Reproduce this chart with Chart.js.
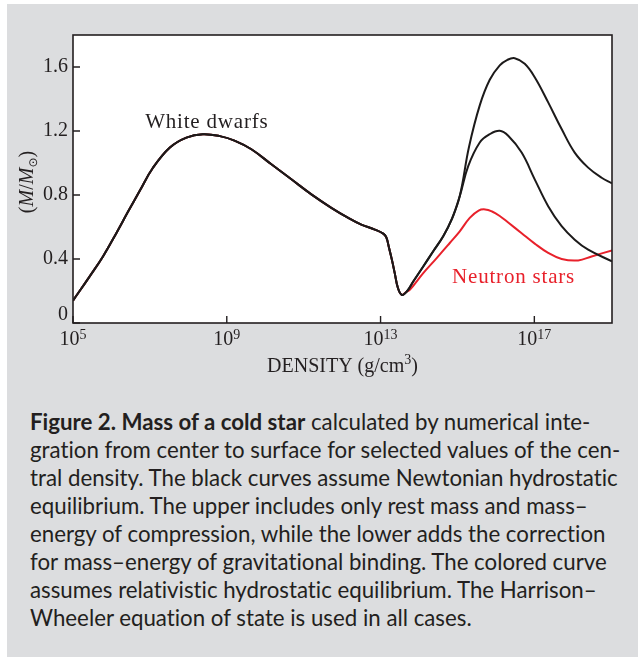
<!DOCTYPE html>
<html>
<head>
<meta charset="utf-8">
<script src="https://cdn.jsdelivr.net/npm/chart.js@4/dist/chart.umd.min.js"></script>
<style>
  html, body { margin:0; padding:0; background:#fff; }
  #panel { position:absolute; left:7px; top:4px; width:631px; height:653px; background:#dcdddf; }
  #chart { position:absolute; left:0; top:0; }
  #caption { position:absolute; left:30px; top:408px; font-family:Lato, "Open Sans", sans-serif; font-size:20px;
             line-height:28px; color:#231f20; white-space:nowrap; font-variant-ligatures:none; }
  #caption b { font-weight:700; }
</style>
</head>
<body>
<div id="panel"></div>
<canvas id="chart" width="638" height="390"></canvas>
<div id="caption">
  <b>Figure 2. Mass of a cold star</b> calculated by numerical inte-<br>
  gration from center to surface for selected values of the cen-<br>
  tral density. The black curves assume Newtonian hydrostatic<br>
  equilibrium. The upper includes only rest mass and mass–<br>
  energy of compression, while the lower adds the correction<br>
  for mass–energy of gravitational binding. The colored curve<br>
  assumes relativistic hydrostatic equilibrium. The Harrison–<br>
  <span id="lastLine">Wheeler equation of state is used in all cases.</span>
</div>
<script>
// densities are given as log10(rho / g cm^-3), masses in solar masses

// white-dwarf branch, shared by all three curves
const wdLogRho = [5.0, 5.43, 5.78, 6.13, 6.43, 6.74, 7.08, 7.52, 7.95, 8.38, 8.82, 9.20, 9.64,
                  10.16, 10.68, 11.20, 11.72, 12.16, 12.50, 12.85, 13.07, 13.15, 13.22, 13.30, 13.37,
                  13.45, 13.55, 13.68];
const wdMass   = [0.14, 0.29, 0.416, 0.563, 0.695, 0.828, 0.97, 1.097, 1.159, 1.18, 1.168, 1.14, 1.086,
                  0.992, 0.898, 0.804, 0.72, 0.657, 0.615, 0.584, 0.559, 0.535, 0.47, 0.39, 0.31,
                  0.22, 0.176, 0.196];

// rise shared by the two Newtonian (black) curves
const riseLogRho = [13.85, 14.11, 14.37, 14.63, 14.85, 15.06];
const riseMass   = [0.259, 0.353, 0.448, 0.542, 0.647, 0.793];

// Newtonian, rest mass + compression energy (upper black)
const upperLogRho = [15.30, 15.58, 15.84, 16.10, 16.30, 16.49, 16.75, 17.01, 17.36, 17.71, 18.05, 18.40, 18.75, 19.02];
const upperMass   = [1.10, 1.36, 1.52, 1.61, 1.645, 1.655, 1.62, 1.536, 1.379, 1.212, 1.065, 0.971, 0.908, 0.873];

// Newtonian, with gravitational binding (lower black)
const lowerLogRho = [15.28, 15.58, 15.84, 16.10, 16.32, 16.67, 17.01, 17.36, 17.71, 18.05, 18.40, 19.02];
const lowerMass   = [0.98, 1.128, 1.18, 1.201, 1.17, 1.065, 0.898, 0.73, 0.605, 0.521, 0.458, 0.385];

// relativistic hydrostatic equilibrium (red)
const relLogRho = [13.76, 14.11, 14.46, 14.80, 15.06, 15.32, 15.55, 15.72, 15.90, 16.10, 16.32, 16.67,
                   17.01, 17.36, 17.71, 18.14, 18.49, 19.02];
const relMass   = [0.207, 0.312, 0.406, 0.5, 0.573, 0.657, 0.703, 0.71, 0.697, 0.669, 0.628, 0.561,
                   0.496, 0.438, 0.40, 0.391, 0.416, 0.454];

const xTickExps = [5, 9, 13, 17];
const yTickVals = [0, 0.4, 0.8, 1.2, 1.6];
const xMinExp = 5, xMaxExp = 19.02;
const yMax = 1.8;

const labels = [
  { text:'White dwarfs',  logRho:8.48,  mass:1.218, color:'#231f20' },
  { text:'Neutron stars', logRho:16.46, mass:0.251, color:'#e8212b' }
];

const pts = (xs, ys) => xs.map((e, i) => ({ x: 10 ** e, y: ys[i] }));

const INK = '#231f20';
const SERIF = '"Liberation Serif", "DejaVu Serif", serif';

const frame = {
  id: 'frame',
  beforeDraw(chart){
    const { ctx, chartArea:a } = chart;
    ctx.save();
    ctx.fillStyle = '#fff';
    ctx.fillRect(a.left, a.top, a.right - a.left, a.bottom - a.top);
    ctx.restore();
  },
  afterDraw(chart){
    const { ctx, chartArea:a, scales:{ x, y } } = chart;
    ctx.save();
    ctx.strokeStyle = INK;
    ctx.fillStyle = INK;
    ctx.lineWidth = 1.6;
    ctx.strokeRect(a.left, a.top, a.right - a.left, a.bottom - a.top);

    // inward tick marks
    ctx.lineWidth = 1.4;
    ctx.beginPath();
    x.ticks.forEach(t => { const px = x.getPixelForValue(t.value); ctx.moveTo(px, a.bottom); ctx.lineTo(px, a.bottom - 7); });
    y.ticks.forEach(t => { const py = y.getPixelForValue(t.value); ctx.moveTo(a.left, py); ctx.lineTo(a.left + 7, py); });
    ctx.stroke();

    // y tick labels
    ctx.font = '20px ' + SERIF;
    ctx.textAlign = 'right';
    ctx.textBaseline = 'middle';
    y.ticks.forEach(t => {
      const py = Math.min(y.getPixelForValue(t.value), a.bottom - 8);
      ctx.fillText(t.value === 0 ? '0' : t.value.toFixed(1), a.left - 5, py);
    });

    // x tick labels, 10 with superscript exponent
    ctx.textAlign = 'left';
    ctx.textBaseline = 'alphabetic';
    x.ticks.forEach(t => {
      const px = x.getPixelForValue(t.value);
      const exp = String(Math.round(Math.log10(t.value)));
      ctx.font = '20px ' + SERIF;
      const w1 = ctx.measureText('10').width;
      ctx.font = '14px ' + SERIF;
      const w2 = ctx.measureText(exp).width;
      const x0 = px - (w1 + w2) / 2;
      ctx.font = '20px ' + SERIF;
      ctx.fillText('10', x0, a.bottom + 22);
      ctx.font = '14px ' + SERIF;
      ctx.fillText(exp, x0 + w1, a.bottom + 16);
    });

    // x axis title
    const cx = (a.left + a.right) / 2;
    ctx.font = '20px ' + SERIF;
    const t1 = 'DENSITY (g/cm', t2 = '3', t3 = ')';
    const w1 = ctx.measureText(t1).width, w3 = ctx.measureText(t3).width;
    ctx.font = '14px ' + SERIF;
    const w2 = ctx.measureText(t2).width;
    let xs = cx - (w1 + w2 + w3) / 2;
    ctx.font = '20px ' + SERIF;
    ctx.fillText(t1, xs, 372);
    ctx.font = '14px ' + SERIF;
    ctx.fillText(t2, xs + w1, 364);
    ctx.font = '20px ' + SERIF;
    ctx.fillText(t3, xs + w1 + w2, 372);

    // y axis title (M/M_sun), rotated
    const parts = [
      { s:'(', f:'20px ' + SERIF, dy:0 },
      { s:'M', f:'italic 20px ' + SERIF, dy:0 },
      { s:'/', f:'20px ' + SERIF, dy:0 },
      { s:'M', f:'italic 20px ' + SERIF, dy:0 },
      { s:'\u2299', f:'12px "DejaVu Sans", sans-serif', dy:4 },
      { s:')', f:'20px ' + SERIF, dy:0 }
    ];
    let total = 0;
    parts.forEach(p => { ctx.font = p.f; p.w = ctx.measureText(p.s).width; total += p.w; });
    ctx.translate(33, (a.top + a.bottom) / 2 + 3);
    ctx.rotate(-Math.PI / 2);
    let ox = -total / 2;
    parts.forEach(p => { ctx.font = p.f; ctx.fillText(p.s, ox, p.dy); ox += p.w; });
    ctx.setTransform(1, 0, 0, 1, 0, 0);

    // curve labels
    ctx.textAlign = 'center';
    ctx.font = '21px ' + SERIF;
    if ('letterSpacing' in ctx) ctx.letterSpacing = '0.8px';
    labels.forEach(l => {
      ctx.fillStyle = l.color;
      ctx.fillText(l.text, x.getPixelForValue(10 ** l.logRho), y.getPixelForValue(l.mass));
    });
    ctx.restore();
  }
};

const line = (data, color) => ({
  data, borderColor: color, borderWidth: 2, pointRadius: 0, fill: false, tension: 0.4
});

new Chart(document.getElementById('chart'), {
  type: 'line',
  data: {
    datasets: [
      { label: 'Newtonian, rest + compression', ...line(pts([...wdLogRho, ...riseLogRho, ...upperLogRho], [...wdMass, ...riseMass, ...upperMass]), '#1c1a1a') },
      { label: 'Newtonian, with binding', ...line(pts([...wdLogRho, ...riseLogRho, ...lowerLogRho], [...wdMass, ...riseMass, ...lowerMass]), '#1c1a1a') },
      { label: 'Relativistic', ...line(pts([...wdLogRho, ...relLogRho], [...wdMass, ...relMass]), '#e8212b') }
    ]
  },
  options: {
    responsive: false,
    animation: false,
    devicePixelRatio: 1,
    layout: { padding: { top: 35, right: 26, left: 0, bottom: 0 } },
    plugins: { legend: { display: false }, tooltip: { enabled: false } },
    scales: {
      x: {
        type: 'logarithmic', min: 10 ** xMinExp, max: 10 ** xMaxExp,
        afterBuildTicks: s => { s.ticks = xTickExps.map(e => ({ value: 10 ** e })); },
        afterFit: s => { s.height = 67; },
        ticks: { display: false }, grid: { display: false }, border: { display: false }
      },
      y: {
        min: 0, max: yMax,
        afterBuildTicks: s => { s.ticks = yTickVals.map(v => ({ value: v })); },
        afterFit: s => { s.width = 73; },
        ticks: { display: false }, grid: { display: false }, border: { display: false }
      }
    }
  },
  plugins: [frame]
});

// fit the caption font so the last line is as long as in the figure
const cap = document.getElementById('caption');
const last = document.getElementById('lastLine');
const w = last.getBoundingClientRect().width;
cap.style.fontSize = (20 * 442 / w).toFixed(2) + 'px';
</script>
</body>
</html>
